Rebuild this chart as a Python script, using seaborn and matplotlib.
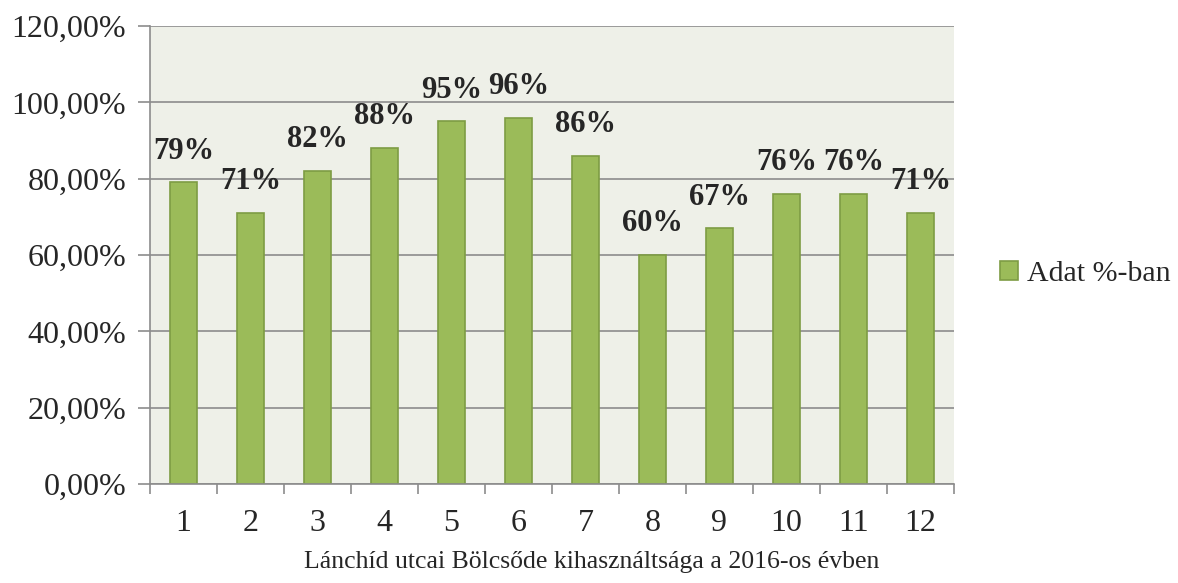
import matplotlib
matplotlib.use("Agg")
import matplotlib.pyplot as plt
import seaborn as sns
from matplotlib.ticker import FuncFormatter, FixedLocator

# havi kihasznaltsag (1-12. honap)
months = ["1", "2", "3", "4", "5", "6", "7", "8", "9", "10", "11", "12"]
values = [0.79, 0.71, 0.82, 0.88, 0.95, 0.96, 0.86, 0.60, 0.67, 0.76, 0.76, 0.71]
series_name = "Adat %-ban"
title = "Lánchíd utcai Bölcsőde kihasználtsága a 2016-os évben"

sns.set_style("white")
plt.rcParams["font.family"] = ["Liberation Serif", "DejaVu Serif"]

fig = plt.figure(figsize=(11.78, 5.83), dpi=100)
ax = fig.add_axes([0.1273, 0.1698, 0.6825, 0.7856])
ax.set_facecolor("#EEF0E8")

sns.barplot(x=months, y=values, color="#9BBB59", width=0.4, saturation=1,
            edgecolor="#7E9C44", linewidth=1.2, label=series_name, ax=ax)

ax.set_ylim(0, 1.2)
ax.set_xlim(-0.5, 11.5)
ax.set_yticks([0, 0.2, 0.4, 0.6, 0.8, 1.0, 1.2])
ax.yaxis.set_major_formatter(FuncFormatter(lambda v, p: f"{v * 100:.2f}%".replace(".", ",")))
ax.grid(axis="y", color="#8C8C8C", linewidth=1.2)
ax.set_axisbelow(True)

for sp in ["top", "right"]:
    ax.spines[sp].set_visible(False)
for sp in ["left", "bottom"]:
    ax.spines[sp].set_color("#8C8C8C")
    ax.spines[sp].set_linewidth(1.2)

# tick jelek a kategoriak kozott
ax.xaxis.set_minor_locator(FixedLocator([i - 0.5 for i in range(len(months) + 1)]))
ax.tick_params(axis="x", which="major", bottom=True, length=0, pad=18, labelsize=23)
ax.tick_params(axis="x", which="minor", bottom=True, length=7.5, width=1.2, color="#8C8C8C")
ax.tick_params(axis="y", left=True, length=9, width=1.2, color="#8C8C8C", labelsize=23, pad=8)
ax.set_xlabel("")
ax.set_ylabel("")

for i, v in enumerate(values):
    ax.annotate(f"{round(v * 100)}%", (i, v), xytext=(0, 12), textcoords="offset points",
                ha="center", va="bottom", fontsize=22, fontweight="bold")

fig.legend(loc="center left", bbox_to_anchor=(0.826, 0.53), frameon=False,
           fontsize=21.5, handlelength=0.6, handleheight=0.6, handletextpad=0.3)
if ax.get_legend() is not None:
    ax.get_legend().remove()

fig.text(0.502, 0.036, title, ha="center", va="center", fontsize=18.5)

fig.savefig("out.png", dpi=100)
